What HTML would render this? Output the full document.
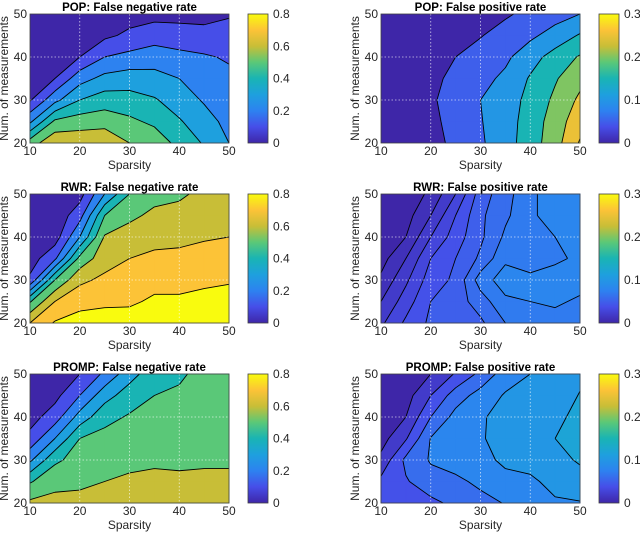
<!DOCTYPE html>
<html><head><meta charset="utf-8"><style>
html,body{margin:0;padding:0;background:#fff;}
svg{display:block;font-family:"Liberation Sans",Arial,sans-serif;}
</style></head><body>
<svg id="fig" width="640" height="533" viewBox="0 0 640 533" xmlns="http://www.w3.org/2000/svg">
<defs>
<linearGradient id="parulaGrad" x1="0" y1="1" x2="0" y2="0">
<stop offset="0" stop-color="rgb(62,38,168)"/><stop offset="0.125" stop-color="rgb(70,78,232)"/>
<stop offset="0.25" stop-color="rgb(45,130,240)"/><stop offset="0.375" stop-color="rgb(30,160,222)"/>
<stop offset="0.5" stop-color="rgb(25,180,180)"/><stop offset="0.625" stop-color="rgb(90,200,120)"/>
<stop offset="0.75" stop-color="rgb(200,190,55)"/><stop offset="0.875" stop-color="rgb(252,195,55)"/>
<stop offset="1" stop-color="rgb(249,251,14)"/>
</linearGradient>
</defs>
</svg>
<script>
// Axis data
const sparsity = [10,15,20,25,30,35,40,45,50];
const measurements = [20,25,30,35,40,45,50];
const xTickLabels = ["10","20","30","40","50"];
const yTickLabels = ["20","30","40","50"];
const cbTicksFN = ["0","0.2","0.4","0.6","0.8"];
const cbTicksFP = ["0","0.1","0.2","0.3"];
const levelsFN = [0.1,0.2,0.3,0.4,0.5,0.6,0.7,0.8];
const levelsPopFP = [0.05,0.1,0.15,0.2,0.25,0.3];
const levelsRwrFP = [0.01,0.02,0.03,0.04,0.05,0.06,0.07,0.08,0.09];
const levelsPrompFP = [0.02,0.04,0.06,0.08,0.1,0.12];
// values: one column per sparsity, entries for measurements 20..50
const zPopFN = [
[0.55,0.28,0.09,0.05,0.03,0.02,0.01],
[0.68,0.52,0.27,0.10,0.05,0.03,0.02],
[0.67,0.55,0.40,0.26,0.10,0.05,0.03],
[0.68,0.56,0.45,0.33,0.20,0.08,0.04],
[0.60,0.52,0.44,0.35,0.23,0.12,0.06],
[0.56,0.48,0.41,0.33,0.26,0.15,0.07],
[0.47,0.41,0.35,0.30,0.23,0.14,0.07],
[0.39,0.34,0.29,0.25,0.21,0.14,0.06],
[0.30,0.27,0.25,0.22,0.19,0.14,0.09]];
const zPopFP = [
[0.01,0.01,0.01,0.01,0.005,0.005,0.005],
[0.02,0.02,0.02,0.02,0.015,0.01,0.01],
[0.04,0.043,0.046,0.04,0.03,0.02,0.015],
[0.057,0.06,0.062,0.06,0.05,0.035,0.025],
[0.093,0.097,0.1,0.085,0.065,0.048,0.035],
[0.13,0.13,0.125,0.11,0.09,0.065,0.045],
[0.175,0.17,0.165,0.155,0.13,0.09,0.06],
[0.23,0.225,0.21,0.195,0.17,0.12,0.08],
[0.305,0.28,0.26,0.235,0.205,0.155,0.1]];
const zRwrFN = [
[0.70,0.49,0.12,0.05,0.03,0.02,0.01],
[0.81,0.70,0.50,0.18,0.05,0.03,0.02],
[0.85,0.76,0.68,0.53,0.30,0.16,0.06],
[0.85,0.78,0.72,0.66,0.61,0.50,0.30],
[0.86,0.78,0.74,0.70,0.64,0.58,0.50],
[0.88,0.82,0.76,0.72,0.67,0.62,0.57],
[0.88,0.82,0.76,0.72,0.68,0.64,0.58],
[0.89,0.83,0.78,0.74,0.69,0.66,0.63],
[0.90,0.84,0.79,0.75,0.70,0.67,0.64]];
const zRwrFP = [
[0.028,0.02,0.012,0.006,0.004,0.003,0.002],
[0.042,0.035,0.028,0.02,0.01,0.006,0.004],
[0.052,0.05,0.045,0.04,0.03,0.02,0.012],
[0.055,0.055,0.052,0.05,0.045,0.04,0.03],
[0.058,0.065,0.075,0.062,0.058,0.058,0.055],
[0.07,0.078,0.085,0.078,0.072,0.068,0.066],
[0.072,0.08,0.082,0.076,0.074,0.078,0.078],
[0.075,0.082,0.085,0.078,0.08,0.085,0.085],
[0.072,0.078,0.085,0.082,0.082,0.085,0.088]];
const zPrompFN = [
[0.62,0.49,0.28,0.13,0.06,0.03,0.02],
[0.63,0.57,0.48,0.30,0.15,0.07,0.04],
[0.63,0.58,0.54,0.50,0.34,0.20,0.10],
[0.65,0.60,0.56,0.53,0.47,0.36,0.22],
[0.66,0.62,0.57,0.54,0.51,0.45,0.36],
[0.67,0.63,0.58,0.55,0.52,0.50,0.46],
[0.67,0.62,0.58,0.56,0.54,0.52,0.48],
[0.68,0.63,0.58,0.57,0.56,0.55,0.54],
[0.68,0.63,0.58,0.57,0.56,0.55,0.55]];
const zPrompFP = [
[0.055,0.045,0.025,0.012,0.01,0.008,0.005],
[0.05,0.058,0.065,0.038,0.02,0.012,0.008],
[0.055,0.072,0.082,0.081,0.06,0.04,0.02],
[0.065,0.076,0.088,0.092,0.087,0.07,0.042],
[0.074,0.084,0.094,0.098,0.098,0.088,0.065],
[0.081,0.094,0.104,0.108,0.106,0.102,0.09],
[0.084,0.097,0.106,0.11,0.108,0.105,0.1],
[0.098,0.105,0.112,0.12,0.115,0.11,0.104],
[0.099,0.11,0.123,0.128,0.126,0.121,0.116]];

const NS="http://www.w3.org/2000/svg";
const svg=document.getElementById('fig');
const anchors=[[0,62,38,168],[0.125,70,78,232],[0.25,45,130,240],[0.375,30,160,222],[0.5,25,180,180],[0.625,90,200,120],[0.75,200,190,55],[0.875,252,195,55],[1,249,251,14]];
function parula(t){t=Math.max(0,Math.min(1,t));for(let k=0;k<anchors.length-1;k++){const a=anchors[k],b=anchors[k+1];if(t<=b[0]){const f=(t-a[0])/(b[0]-a[0]);return 'rgb('+[1,2,3].map(c=>Math.round(a[c]+(b[c]-a[c])*f)).join(',')+')';}}return 'rgb(249,251,14)';}
function mk(tag,attrs,parent){const e=document.createElementNS(NS,tag);for(const k in attrs)e.setAttribute(k,attrs[k]);(parent||svg).appendChild(e);return e;}

const panels=[
{name:'pop-fn',title:'POP: False negative rate',z:zPopFN,levels:levelsFN,cmax:0.8,cb:cbTicksFN,L:30,T:14},
{name:'pop-fp',title:'POP: False positive rate',z:zPopFP,levels:levelsPopFP,cmax:0.3,cb:cbTicksFP,L:381,T:14},
{name:'rwr-fn',title:'RWR: False negative rate',z:zRwrFN,levels:levelsFN,cmax:0.8,cb:cbTicksFN,L:30,T:194},
{name:'rwr-fp',title:'RWR: False positive rate',z:zRwrFP,levels:levelsRwrFP,cmax:0.3,cb:cbTicksFP,L:381,T:194},
{name:'promp-fn',title:'PROMP: False negative rate',z:zPrompFN,levels:levelsFN,cmax:0.8,cb:cbTicksFN,L:30,T:374},
{name:'promp-fp',title:'PROMP: False positive rate',z:zPrompFP,levels:levelsPrompFP,cmax:0.3,cb:cbTicksFP,L:381,T:374}];
const W=199,H=129;

panels.forEach(p=>{
  const g=mk('g',{});
  
  
  const xS=v=>p.L+(v-10)/40*W, yS=v=>p.T+H-(v-20)/30*H;
  const bg=mk('rect',{x:p.L,y:p.T,width:W,height:H,fill:parula(0)},g);
  
  
  const z=p.z;
  // filled contours
  p.levels.forEach(Lv=>{
    let d='';
    for(let i=0;i<sparsity.length-1;i++)for(let j=0;j<measurements.length-1;j++){
      const c=[[i,j],[i+1,j],[i+1,j+1],[i,j+1]];
      const pts=[];
      for(let k=0;k<4;k++){
        const a=c[k],b=c[(k+1)%4];const va=z[a[0]][a[1]],vb=z[b[0]][b[1]];
        if(va>=Lv)pts.push([sparsity[a[0]],measurements[a[1]]]);
        if((va>=Lv)!==(vb>=Lv)){const f=(Lv-va)/(vb-va);pts.push([sparsity[a[0]]+(sparsity[b[0]]-sparsity[a[0]])*f,measurements[a[1]]+(measurements[b[1]]-measurements[a[1]])*f]);}
      }
      if(pts.length>=3)d+='M'+pts.map(q=>xS(q[0]).toFixed(2)+','+yS(q[1]).toFixed(2)).join('L')+'Z';
    }
    if(d){const col=parula(Lv/p.cmax);const path=mk('path',{d:d,fill:col,stroke:col,'stroke-width':0.6},g);
      
      }
  });
  // contour lines
  let ld='';
  p.levels.forEach(Lv=>{
    for(let i=0;i<sparsity.length-1;i++)for(let j=0;j<measurements.length-1;j++){
      const c=[[i,j],[i+1,j],[i+1,j+1],[i,j+1]];const cr=[];
      for(let k=0;k<4;k++){const a=c[k],b=c[(k+1)%4];const va=z[a[0]][a[1]],vb=z[b[0]][b[1]];
        if((va>=Lv)!==(vb>=Lv)){const f=(Lv-va)/(vb-va);cr.push([xS(sparsity[a[0]]+(sparsity[b[0]]-sparsity[a[0]])*f),yS(measurements[a[1]]+(measurements[b[1]]-measurements[a[1]])*f)]);}}
      for(let m=0;m+1<cr.length;m+=2)ld+='M'+cr[m][0].toFixed(2)+','+cr[m][1].toFixed(2)+'L'+cr[m+1][0].toFixed(2)+','+cr[m+1][1].toFixed(2);
    }
  });
  const cl=mk('path',{d:ld,fill:'none',stroke:'#000','stroke-width':0.9},g);
  
  
  // grid
  let gd='';
  [20,30,40].forEach(v=>{gd+='M'+xS(v)+','+p.T+'V'+(p.T+H);});
  [30,40].forEach(v=>{gd+='M'+p.L+','+yS(v)+'H'+(p.L+W);});
  const gr=mk('path',{d:gd,stroke:'#fff','stroke-opacity':0.75,'stroke-width':0.8,'stroke-dasharray':'1.5,2',fill:'none'},g);
  
  
  const box=mk('rect',{x:p.L,y:p.T,width:W,height:H,fill:'none',stroke:'#404040','stroke-width':0.8},g);
  
  
  // ticks
  xTickLabels.forEach(s=>{const v=+s;const t=mk('text',{x:xS(v),y:p.T+H+12,'font-size':12,fill:'#262626','text-anchor':'middle'},g);t.textContent=s;
    
    });
  yTickLabels.forEach(s=>{const v=+s;const t=mk('text',{x:p.L-3,y:yS(v)+4,'font-size':12,fill:'#262626','text-anchor':'end'},g);t.textContent=s;
    
    });
  const tt=mk('text',{x:p.L+W/2,y:p.T-3,'font-size':11.5,'font-weight':'bold',fill:'#000','text-anchor':'middle'},g);tt.textContent=p.title;
  
  
  const xl=mk('text',{x:p.L+W/2,y:p.T+H+26,'font-size':12,fill:'#262626','text-anchor':'middle'},g);xl.textContent='Sparsity';
  
  
  const yx=p.L-22,yy=p.T+H/2;
  const yl=mk('text',{x:yx,y:yy,'font-size':12,fill:'#262626','text-anchor':'middle',transform:'rotate(-90 '+yx+' '+yy+')'},g);yl.textContent='Num. of measurements';
  
  
  // colorbar
  const cx=p.L+218;
  const cb=mk('rect',{x:cx,y:p.T,width:20,height:H,fill:'url(#parulaGrad)',stroke:'#404040','stroke-width':0.8},g);
  
  
  p.cb.forEach((s,k)=>{const yv=p.T+H-k/(p.cb.length-1)*H;const t=mk('text',{x:cx+25,y:yv+4,'font-size':12,fill:'#262626'},g);t.textContent=s;
    
    });
});
</script>
</body></html>
